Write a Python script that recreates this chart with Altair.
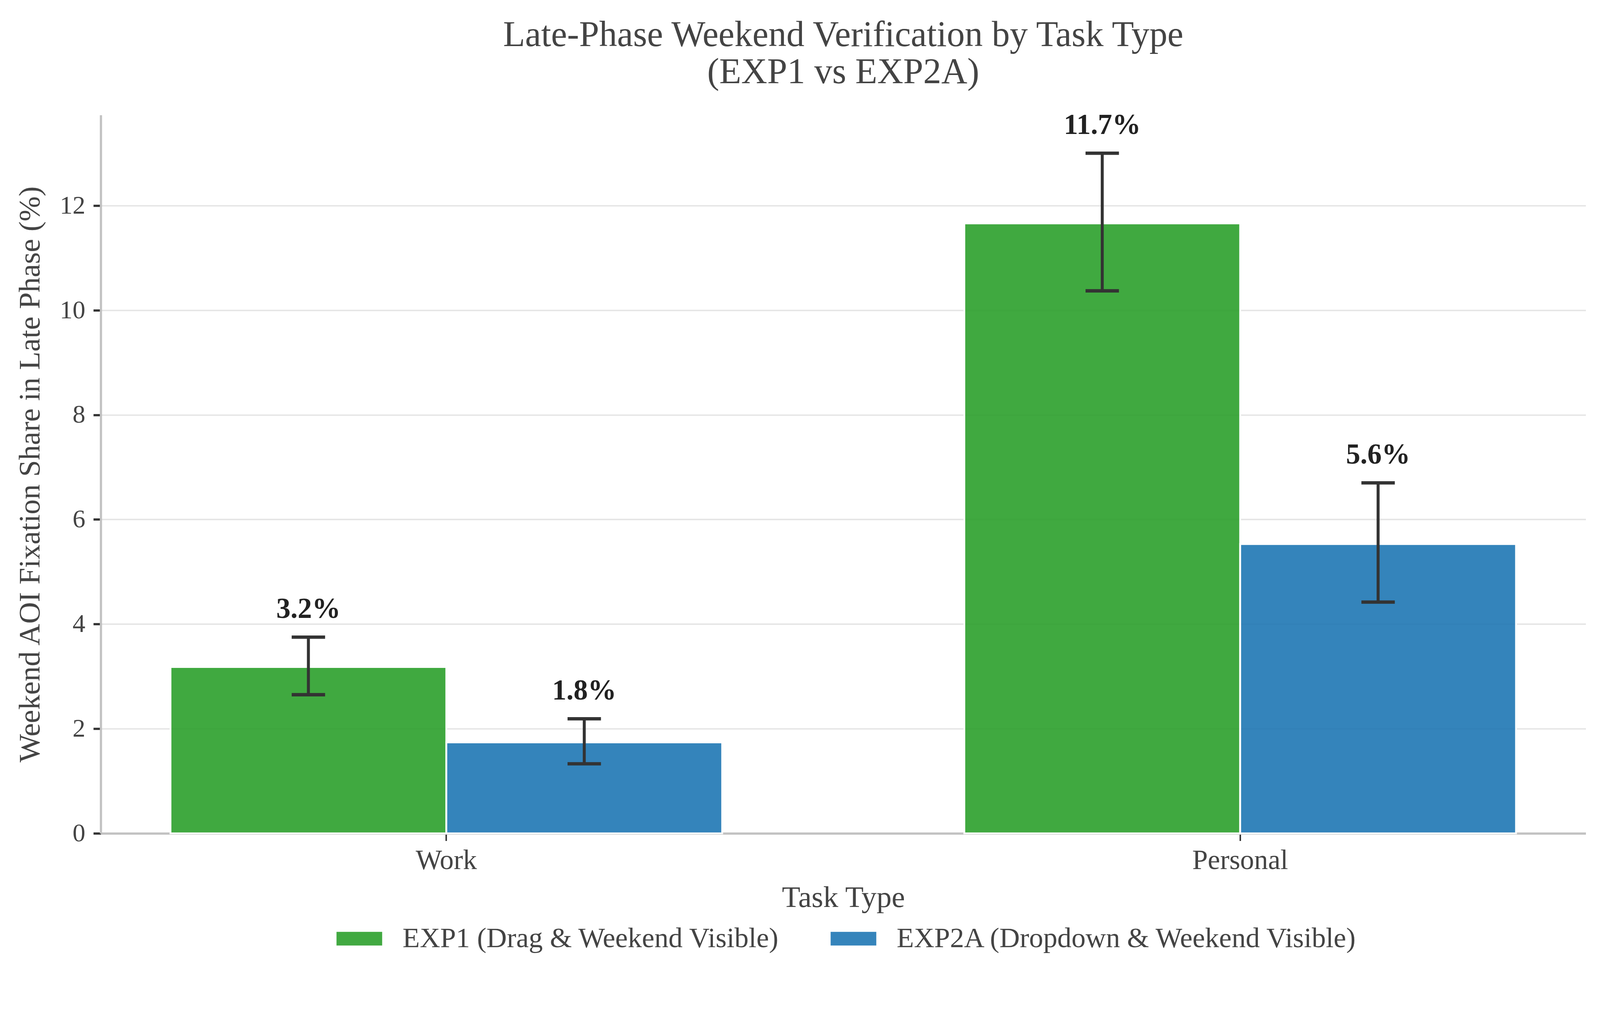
import altair as alt
import pandas as pd

tasks = ["Work", "Work", "Personal", "Personal"]
experiments = ["EXP1 (Drag & Weekend Visible)", "EXP2A (Dropdown & Weekend Visible)",
               "EXP1 (Drag & Weekend Visible)", "EXP2A (Dropdown & Weekend Visible)"]
means = [3.18, 1.74, 11.66, 5.53]
ci_low = [2.65, 1.33, 10.37, 4.42]
ci_high = [3.75, 2.19, 13.0, 6.70]
labels = ["3.2%", "1.8%", "11.7%", "5.6%"]

task_order = ["Work", "Personal"]
exp_order = ["EXP1 (Drag & Weekend Visible)", "EXP2A (Dropdown & Weekend Visible)"]
colors = ["#2ca02c", "#1f77b4"]

df = pd.DataFrame({"task": tasks, "exp": experiments, "mean": means,
                   "lo": ci_low, "hi": ci_high, "label": labels})

FONT = "Liberation Serif"
TXT = "#444444"

x_enc = alt.X("task:N", sort=task_order,
              scale=alt.Scale(paddingInner=0.305, paddingOuter=0.0878),
              axis=alt.Axis(title="Task Type", labelAngle=0))
xoff = alt.XOffset("exp:N", sort=exp_order, scale=alt.Scale(paddingInner=0.0, paddingOuter=0.0))
y_scale = alt.Scale(domain=[0, 13.73], nice=False, zero=True)

base = alt.Chart(df)

bars = base.mark_bar(opacity=0.9, stroke="white", strokeWidth=5).encode(
    x=x_enc,
    xOffset=xoff,
    y=alt.Y("mean:Q", scale=y_scale,
            axis=alt.Axis(title="Weekend AOI Fixation Share in Late Phase (%)",
                          values=[0, 2, 4, 6, 8, 10, 12], format="d")),
    color=alt.Color("exp:N", sort=exp_order,
                    scale=alt.Scale(domain=exp_order, range=colors),
                    legend=alt.Legend(title=None, orient="none", direction="horizontal",
                                      legendX=635, legendY=2157)),
)

stems = base.mark_rule(color="#333333", strokeWidth=8).encode(
    x=alt.X("task:N", sort=task_order),
    xOffset=alt.XOffset("exp:N", sort=exp_order),
    y=alt.Y("lo:Q", scale=y_scale),
    y2="hi:Q",
)

caps_hi = base.mark_tick(color="#333333", thickness=9, size=90, opacity=1).encode(
    x=alt.X("task:N", sort=task_order),
    xOffset=alt.XOffset("exp:N", sort=exp_order),
    y=alt.Y("hi:Q", scale=y_scale),
)
caps_lo = base.mark_tick(color="#333333", thickness=9, size=90, opacity=1).encode(
    x=alt.X("task:N", sort=task_order),
    xOffset=alt.XOffset("exp:N", sort=exp_order),
    y=alt.Y("lo:Q", scale=y_scale),
)

text = base.mark_text(font=FONT, fontSize=77, fontWeight="bold", color="#222222",
                      baseline="middle", align="center", dy=-75).encode(
    x=alt.X("task:N", sort=task_order),
    xOffset=alt.XOffset("exp:N", sort=exp_order),
    y=alt.Y("hi:Q", scale=y_scale),
    text="label:N",
)

chart = alt.layer(bars, stems, caps_hi, caps_lo, text).properties(
    width=4000,
    height=1935,
    autosize=alt.AutoSizeParams(type="none"),
    padding={"left": 263, "top": 237, "right": 30, "bottom": 300},
    title=alt.TitleParams(
        text=["Late-Phase Weekend Verification by Task Type", "(EXP1 vs EXP2A)"],
        font=FONT, fontSize=97, fontWeight="normal", color=TXT,
        anchor="middle", frame="group", offset=55, lineHeight=100,
    ),
).configure_view(stroke=None).configure_axis(
    labelFont=FONT, titleFont=FONT, labelColor=TXT, titleColor=TXT,
    titleFontWeight="normal", titleFontSize=81, labelLimit=2000, titleLimit=4000,
    domainColor="#c2c2c2", domainWidth=6,
    tickColor="#333333", tickSize=20, tickWidth=6,
    gridColor="#e6e6e6", gridWidth=4,
).configure_axisY(
    labelFontSize=69, labelPadding=22, titlePadding=38, grid=True,
).configure_axisX(
    labelFontSize=75, labelPadding=17, titlePadding=23, grid=False, tickWidth=4,
).configure_legend(
    labelFont=FONT, labelFontSize=76, labelColor=TXT, labelLimit=3000, padding=0,
    symbolType="M-1,-0.3L1,-0.3L1,0.3L-1,0.3Z", symbolSize=15129,
    symbolStrokeWidth=0, labelOffset=55, columnPadding=137,
)

chart.save("out.html", embed_options={"renderer": "svg", "actions": False})
